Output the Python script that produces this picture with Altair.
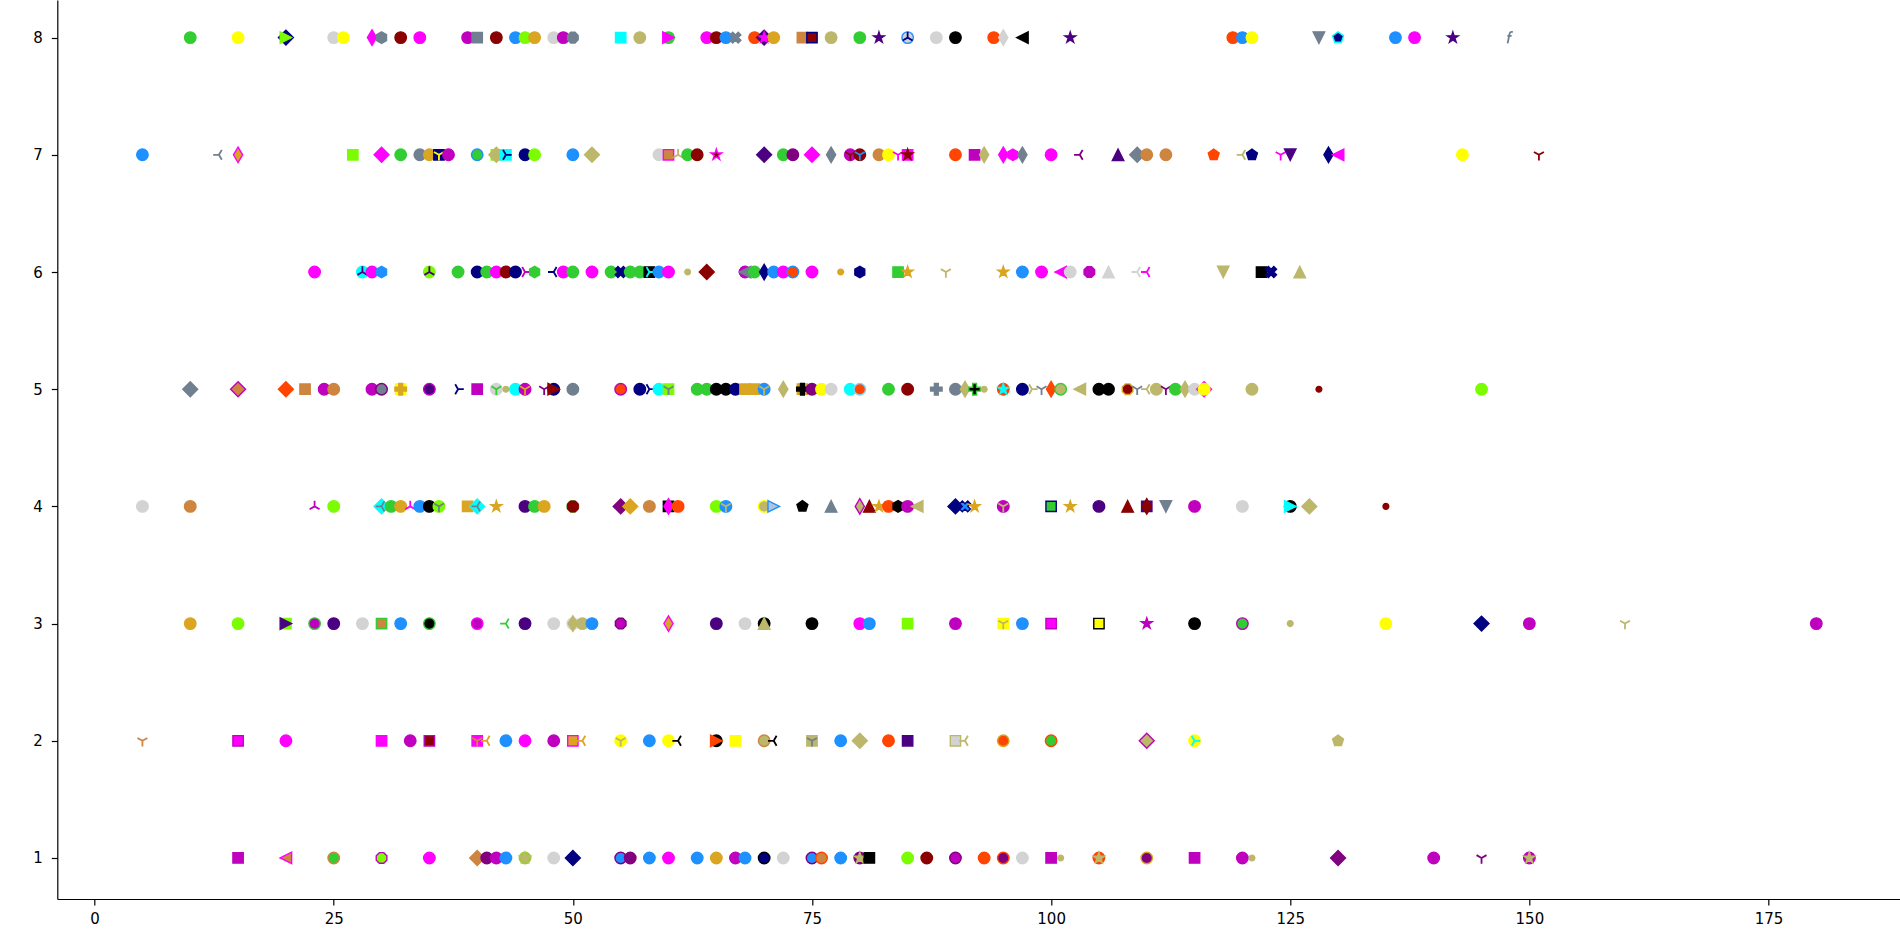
import math
import altair as alt
import pandas as pd

# ---------------- data ----------------
rows = [1, 2, 3, 4, 5, 6, 7, 8]

r8_x = [10, 15, 20, 20, 25, 26, 29, 30, 32, 34, 39, 40, 42, 44, 45, 46, 48, 49, 50, 55, 57, 60, 60, 64, 65, 66, 67,
        69, 70, 70, 71, 74, 75, 77, 80, 82, 85, 85, 88, 90, 94, 95, 97, 102, 119, 120, 121, 128, 130, 136, 138, 142, 148]
r8_mk = ["o", "o", "D", ">", "o", "o", "d", "h", "o", "o", "o", "s", "o", "o", "o", "o", "o", "o", "8", "s", "o", "o", ">",
         "o", "o", "o", "X", "o", "D", "*", "o", "s", "s", "o", "o", "*", "o", "2", "o", "o", "o", "d", "<", "*", "o", "o",
         "o", "v", "p", "o", "o", "*", "f"]
r8_col = ["limegreen", "yellow", "navy", "lawngreen", "lightgray", "yellow", "magenta", "slategray", "darkred", "magenta",
          "m", "slategray", "darkred", "dodgerblue", "lawngreen", "goldenrod", "lightgray", "m", "slategray", "cyan",
          "darkkhaki", "limegreen", "magenta", "magenta", "darkred", "dodgerblue", "slategray", "orangered", "indigo",
          "magenta", "goldenrod", "peru", "darkred/navy", "darkkhaki", "limegreen", "indigo", "lightgray/dodgerblue",
          "navy", "lightgray", "black", "orangered", "lightgray", "black", "indigo", "orangered", "dodgerblue", "yellow",
          "slategray", "navy/cyan", "dodgerblue", "magenta", "indigo", "slategray"]

r7_x = [5, 13, 15, 27, 30, 32, 34, 35, 36, 36, 37, 40, 42, 42, 43, 43, 45, 46, 50, 52, 59, 60, 61, 62, 63, 65, 70, 72,
        73, 75, 77, 79, 79, 80, 80, 82, 83, 84, 85, 85, 90, 92, 93, 95, 96, 97, 100, 103, 107, 109, 110, 112, 117, 120,
        121, 124, 125, 129, 130, 143, 151]
r7_mk = ["o", "3", "d", "s", "D", "o", "o", "o", "s", "1", "o", "o", "s", "D", "s", "4", "o", "o", "o", "D", "o", "s",
         "2", "o", "o", "*", "D", "o", "o", "D", "d", "o", "1", "o", "1", "o", "o", "1", "s", "*", "o", "s", "d", "d", "h",
         "d", "o", "3", "^", "D", "o", "o", "p", "3", "p", "1", "v", "d", "<", "o", "1"]
r7_col = ["dodgerblue", "slategray", "goldenrod/magenta", "lawngreen", "magenta", "limegreen", "slategray", "goldenrod",
          "navy", "yellow", "m", "limegreen/dodgerblue", "lawngreen", "darkkhaki", "cyan", "navy", "navy", "lawngreen",
          "dodgerblue", "darkkhaki", "lightgray", "peru/magenta", "darkkhaki", "limegreen", "darkred",
          "darkred/magenta", "indigo", "limegreen", "purple", "magenta", "slategray", "m", "darkred", "darkred",
          "dodgerblue", "peru", "yellow", "magenta", "magenta", "darkred", "orangered", "m", "darkkhaki", "magenta",
          "magenta", "slategray", "magenta", "purple", "indigo", "slategray", "peru", "peru", "orangered", "darkkhaki",
          "navy", "magenta", "indigo", "navy", "magenta", "yellow", "darkred"]

r6_x = [23, 28, 28, 29, 30, 35, 35, 38, 40, 41, 42, 43, 44, 45, 46, 48, 49, 50, 52, 54, 55, 56, 57, 58, 58, 59, 60, 62,
        64, 68, 68, 69, 70, 71, 72, 73, 75, 78, 80, 84, 85, 89, 95, 97, 99, 101, 102, 104, 106, 109, 110, 118, 122, 123,
        126]
r6_mk = ["o", "o", "2", "o", "h", "o", "2", "o", "o", "o", "o", "o", "o", "4", "h", "3", "o", "o", "o", "o", "X", "o",
         "o", "s", "4", "o", "o", ".", "D", "o", "<", "o", "d", "o", "o", "o", "o", ".", "h", "s", "*", "1", "*", "o", "o",
         "<", "o", "8", "^", "3", "3", "v", "s", "X", "^"]
r6_col = ["magenta", "cyan", "indigo", "magenta", "dodgerblue", "lawngreen", "indigo", "limegreen", "navy", "limegreen",
          "magenta", "darkred", "navy", "m", "limegreen", "navy", "magenta", "limegreen", "magenta", "limegreen", "navy",
          "limegreen", "limegreen", "black", "cyan", "dodgerblue", "magenta", "darkkhaki", "darkred", "m", "slategray",
          "limegreen", "navy", "dodgerblue", "magenta", "orangered/dodgerblue", "magenta", "goldenrod", "navy",
          "limegreen", "goldenrod", "darkkhaki", "goldenrod", "dodgerblue", "magenta", "magenta", "lightgray", "m",
          "lightgray", "lightgray", "magenta", "darkkhaki", "black", "navy", "darkkhaki"]

r5_x = [10, 15, 20, 22, 24, 25, 29, 30, 32, 32, 35, 38, 40, 42, 42, 43, 44, 45, 45, 47, 48, 48, 50, 55, 57, 58, 59, 60,
        60, 63, 64, 65, 66, 67, 68, 69, 70, 70, 72, 74, 74, 75, 76, 77, 79, 80, 83, 85, 88, 90, 91, 92, 93, 95, 95, 97,
        98, 99, 100, 101, 103, 105, 106, 108, 109, 110, 111, 112, 113, 114, 115, 116, 116, 121, 128, 145]
r5_mk = ["D", "D", "D", "s", "o", "o", "o", "o", "s", "P", "o", "4", "s", "o", "1", ".", "o", "o", "1", "1", "o", ">",
         "o", "o", "o", "4", "o", "s", "1", "o", "o", "o", "o", "o", "s", "s", "o", "1", "d", "s", "P", "o", "o", "o", "o",
         "o", "o", "o", "P", "o", "d", "P", ".", "o", "*", "o", "4", "1", "d", "o", "<", "o", "o", "8", "1", "3", "o", "1",
         "o", "d", "o", "D", "o", "o", ".", "o"]
r5_col = ["slategray", "peru/m", "orangered", "peru", "m", "peru", "m", "slategray/purple", "yellow", "goldenrod",
          "indigo/m", "navy", "m", "lightgray", "limegreen", "darkkhaki", "cyan", "m", "goldenrod", "purple", "navy",
          "darkred", "slategray", "orangered/m", "navy", "navy", "cyan", "lawngreen", "slategray", "limegreen",
          "limegreen", "black", "black", "navy", "goldenrod", "goldenrod", "dodgerblue", "darkkhaki", "darkkhaki",
          "goldenrod", "black", "purple", "yellow", "lightgray", "cyan", "orangered/lightskyblue", "limegreen",
          "darkred", "slategray", "slategray", "darkkhaki", "black/limegreen", "darkkhaki", "orangered", "cyan", "navy",
          "darkkhaki", "slategray", "orangered", "darkkhaki/limegreen", "darkkhaki", "black", "black",
          "darkred/goldenrod", "slategray", "darkkhaki", "darkkhaki", "purple", "limegreen", "darkkhaki", "lightgray",
          "magenta", "yellow", "darkkhaki", "darkred", "lawngreen"]

r4_x = [5, 10, 23, 25, 30, 30, 31, 32, 33, 34, 35, 36, 36, 39, 40, 40, 42, 45, 46, 47, 50, 50, 55, 56, 58, 60, 60, 61,
        65, 66, 66, 70, 71, 74, 77, 80, 81, 82, 83, 84, 85, 86, 90, 91, 92, 95, 95, 100, 102, 105, 108, 110, 110, 112,
        115, 120, 125, 125, 127, 135]
r4_mk = ["o", "o", "2", "o", "D", "3", "o", "o", "2", "o", "o", "o", "1", "s", "D", "3", "*", "o", "o", "o", "o", "8",
         "D", "D", "o", "s", "d", "o", "o", "o", "1", "o", ">", "p", "^", "d", "^", "*", "o", "h", "o", "<", "D", "X", "*",
         "o", "1", "s", "*", "o", "^", "s", "d", "v", "o", "o", "o", ">", "D", "."]
r4_col = ["lightgray", "peru", "m", "lawngreen", "cyan", "slategray", "limegreen", "goldenrod", "magenta", "dodgerblue",
          "black", "lawngreen", "slategray", "goldenrod", "cyan", "slategray", "goldenrod", "indigo", "limegreen",
          "goldenrod", "limegreen", "darkred", "purple", "goldenrod", "peru", "black", "magenta", "orangered",
          "lawngreen", "dodgerblue", "darkkhaki", "darkkhaki/yellow", "lightsteelblue/dodgerblue", "black",
          "slategray", "darkkhaki/m", "darkred", "goldenrod", "orangered", "black", "m", "darkkhaki", "navy",
          "dodgerblue/navy", "goldenrod", "m", "darkkhaki", "limegreen/navy", "goldenrod", "indigo", "darkred",
          "indigo", "darkred", "slategray", "m", "lightgray", "black", "cyan", "darkkhaki", "darkred"]

r3_x = [10, 15, 20, 20, 23, 25, 28, 30, 32, 35, 40, 43, 45, 48, 50, 50, 51, 52, 55, 60, 65, 68, 70, 70, 75, 80, 81, 85,
        90, 95, 95, 97, 100, 105, 110, 115, 120, 125, 135, 145, 150, 160, 180]
r3_mk = ["o", "o", "s", ">", "o", "o", "o", "s", "o", "o", "o", "3", "o", "o", "o", "d", "o", "o", "8", "d", "o", "o",
         "o", "^", "o", "o", "o", "s", "o", "s", "1", "o", "s", "s", "*", "o", "o", ".", "o", "D", "o", "1", "o"]
r3_col = ["goldenrod", "lawngreen", "lawngreen", "indigo", "m/limegreen", "indigo", "lightgray", "peru/limegreen",
          "dodgerblue", "black/limegreen", "m/magenta", "limegreen", "indigo", "lightgray", "lightgray", "darkkhaki",
          "darkkhaki", "dodgerblue", "m/purple", "goldenrod/magenta", "indigo", "lightgray", "black", "darkkhaki",
          "black", "magenta", "dodgerblue", "lawngreen", "m", "yellow", "darkkhaki", "dodgerblue", "magenta/m",
          "yellow/black", "m", "black", "limegreen/m", "darkkhaki", "yellow", "navy", "m", "darkkhaki", "m"]

r2_x = [5, 15, 20, 30, 33, 35, 40, 40, 41, 43, 45, 48, 50, 51, 55, 55, 58, 60, 61, 65, 65, 67, 70, 71, 75, 75, 78, 80,
        83, 85, 90, 91, 95, 100, 110, 115, 115, 130]
r2_mk = ["1", "s", "o", "s", "o", "s", "s", "1", "3", "o", "o", "o", "s", "3", "o", "1", "o", "o", "3", "o", ">", "s",
         "o", "3", "s", "1", "o", "D", "o", "s", "s", "3", "o", "o", "D", "o", "4", "p"]
r2_col = ["peru", "magenta/m", "magenta", "magenta", "m", "darkred/m", "magenta", "peru", "goldenrod", "dodgerblue",
          "magenta", "m", "goldenrod/magenta", "goldenrod", "yellow", "darkkhaki", "dodgerblue", "yellow", "black",
          "black", "orangered", "yellow", "darkkhaki/peru", "black", "darkkhaki", "slategray", "dodgerblue",
          "darkkhaki", "orangered", "indigo", "lightgray/darkkhaki", "darkkhaki", "orangered/goldenrod",
          "limegreen/orangered", "darkkhaki/m", "yellow", "cyan", "darkkhaki"]

r1_x = [15, 20, 25, 30, 35, 40, 41, 42, 43, 45, 45, 48, 50, 55, 56, 58, 60, 63, 65, 67, 68, 70, 72, 75, 76, 78, 80, 80,
        81, 85, 87, 90, 93, 95, 97, 100, 101, 105, 105, 110, 115, 120, 121, 130, 140, 145, 150, 150]
r1_mk = ["s", "<", "o", "8", "o", "D", "o", "o", "o", "o", "*", "o", "D", "o", "o", "o", "o", "o", "o", "o", "o", "o",
         "o", "o", "o", "o", "o", "*", "s", "o", "o", "o", "o", "o", "o", "s", ".", "o", "*", "o", "s", "o", ".", "D", "o",
         "1", "o", "*"]
r1_col = ["m", "peru/magenta", "limegreen/peru", "lawngreen/m", "magenta", "peru", "purple", "m", "dodgerblue",
          "yellowgreen", "darkkhaki", "lightgray", "navy", "dodgerblue/purple", "purple", "dodgerblue", "magenta",
          "dodgerblue", "goldenrod", "m", "dodgerblue", "navy/black", "lightgray", "dodgerblue/purple",
          "peru/orangered", "dodgerblue", "purple", "darkkhaki", "black", "lawngreen", "darkred", "m/purple",
          "orangered", "purple/orangered", "lightgray", "m", "darkkhaki", "orangered", "darkkhaki",
          "purple/goldenrod", "m", "m", "darkkhaki", "purple", "m", "purple", "m", "darkkhaki"]

x_ticks = [0, 25, 50, 75, 100, 125, 150, 175]
y_ticks = [1, 2, 3, 4, 5, 6, 7, 8]

# ---------------- marker geometry ----------------
def poly(n, r, rot=0.0):
    pts = []
    for k in range(n):
        a = math.radians(90 + rot + 360.0 * k / n)
        pts.append((r * math.cos(a), -r * math.sin(a)))
    return "M" + "L".join(f"{x:.3f},{y:.3f}" for x, y in pts) + "Z"


def star(r_out=1.0, r_in=0.382):
    pts = []
    for k in range(10):
        r = r_out if k % 2 == 0 else r_in
        a = math.radians(90 + 36 * k)
        pts.append((r * math.cos(a), -r * math.sin(a)))
    return "M" + "L".join(f"{x:.3f},{y:.3f}" for x, y in pts) + "Z"


def plus_filled(rot=0.0):
    base = [(-1, -3), (1, -3), (1, -1), (3, -1), (3, 1), (1, 1), (1, 3), (-1, 3), (-1, 1), (-3, 1), (-3, -1), (-1, -1)]
    c, s = math.cos(math.radians(rot)), math.sin(math.radians(rot))
    pts = [((x * c - y * s) / 3.0, (x * s + y * c) / 3.0) for x, y in base]
    return "M" + "L".join(f"{x:.3f},{y:.3f}" for x, y in pts) + "Z"


SHAPES = {
    "o": "circle",
    ".": "M0.5,0A0.5,0.5 0 1,1 -0.5,0A0.5,0.5 0 1,1 0.5,0Z",
    "s": "M-0.9,-0.9L0.9,-0.9L0.9,0.9L-0.9,0.9Z",
    "D": "M0,-1.3L1.3,0L0,1.3L-1.3,0Z",
    "d": "M0,-1.35L0.8,0L0,1.35L-0.8,0Z",
    "^": "M0,-1L1,1L-1,1Z",
    "v": "M0,1L1,-1L-1,-1Z",
    "<": "M-1,0L1,-1L1,1Z",
    ">": "M1,0L-1,-1L-1,1Z",
    "p": poly(5, 1.0),
    "h": poly(6, 1.0),
    "8": poly(8, 1.0, 22.5),
    "*": star(),
    "P": plus_filled(0),
    "X": plus_filled(45),
    "1": "M0,0L0,1M0,0L-0.866,-0.5M0,0L0.866,-0.5",
    "2": "M0,0L0,-1M0,0L-0.866,0.5M0,0L0.866,0.5",
    "3": "M0,0L-1,0M0,0L0.5,-0.866M0,0L0.5,0.866",
    "4": "M0,0L1,0M0,0L-0.5,-0.866M0,0L-0.5,0.866",
    "f": "M0.45,-0.95C0.1,-1.1 -0.1,-0.9 -0.15,-0.5L-0.45,1.0M-0.5,-0.3L0.25,-0.3",
}
LINE_MARKERS = {"1", "2", "3", "4", "f"}
COLOR_ALIAS = {"m": "#bf00bf"}


def col(c):
    return COLOR_ALIAS.get(c, c)


records = []
row_data = {8: (r8_x, r8_mk, r8_col), 7: (r7_x, r7_mk, r7_col), 6: (r6_x, r6_mk, r6_col),
            5: (r5_x, r5_mk, r5_col), 4: (r4_x, r4_mk, r4_col), 3: (r3_x, r3_mk, r3_col),
            2: (r2_x, r2_mk, r2_col), 1: (r1_x, r1_mk, r1_col)}
order = 0
for yv in rows:
    xs, mks, cols = row_data[yv]
    for xv, mk, cc in zip(xs, mks, cols):
        parts = cc.split("/")
        face = col(parts[0])
        edge = col(parts[1]) if len(parts) > 1 else face
        if mk in LINE_MARKERS:
            fill, stroke, sw = "transparent", face, 1.8
        else:
            fill, stroke, sw = face, edge, 1.4
        records.append({"x": xv, "y": yv, "shape": SHAPES[mk], "fill": fill, "stroke": stroke,
                        "sw": sw, "ord": order})
        order += 1

df = pd.DataFrame(records)

points = alt.Chart(df).mark_point(filled=True, opacity=1, size=132).encode(
    x=alt.X("x:Q", scale=alt.Scale(domain=[-3.9, 188.75], nice=False, zero=False),
            axis=alt.Axis(values=x_ticks, title=None, labelAngle=0, format="d")),
    y=alt.Y("y:Q", scale=alt.Scale(domain=[0.65, 8.321], nice=False, zero=False),
            axis=alt.Axis(values=y_ticks, title=None, format="d")),
    shape=alt.Shape("shape:N", scale=None),
    fill=alt.Fill("fill:N", scale=None),
    stroke=alt.Stroke("stroke:N", scale=None),
    strokeWidth=alt.StrokeWidth("sw:Q", scale=None),
    order=alt.Order("ord:Q"),
)

chart = points.properties(
    width=1842.7,
    height=899,
    autosize=alt.AutoSizeParams(type="none"),
    padding={"left": 57.3, "top": 0, "right": 0, "bottom": 48},
).configure_view(stroke=None).configure_axis(
    grid=False,
    domainColor="black",
    domainWidth=1.2,
    tickColor="black",
    tickWidth=1.2,
    tickSize=6,
    labelColor="black",
    labelFont="DejaVu Sans",
    labelFontSize=15,
).configure_axisY(labelPadding=9).configure_axisX(labelPadding=6)

chart.save("out.html", embed_options={"renderer": "svg", "actions": False})
